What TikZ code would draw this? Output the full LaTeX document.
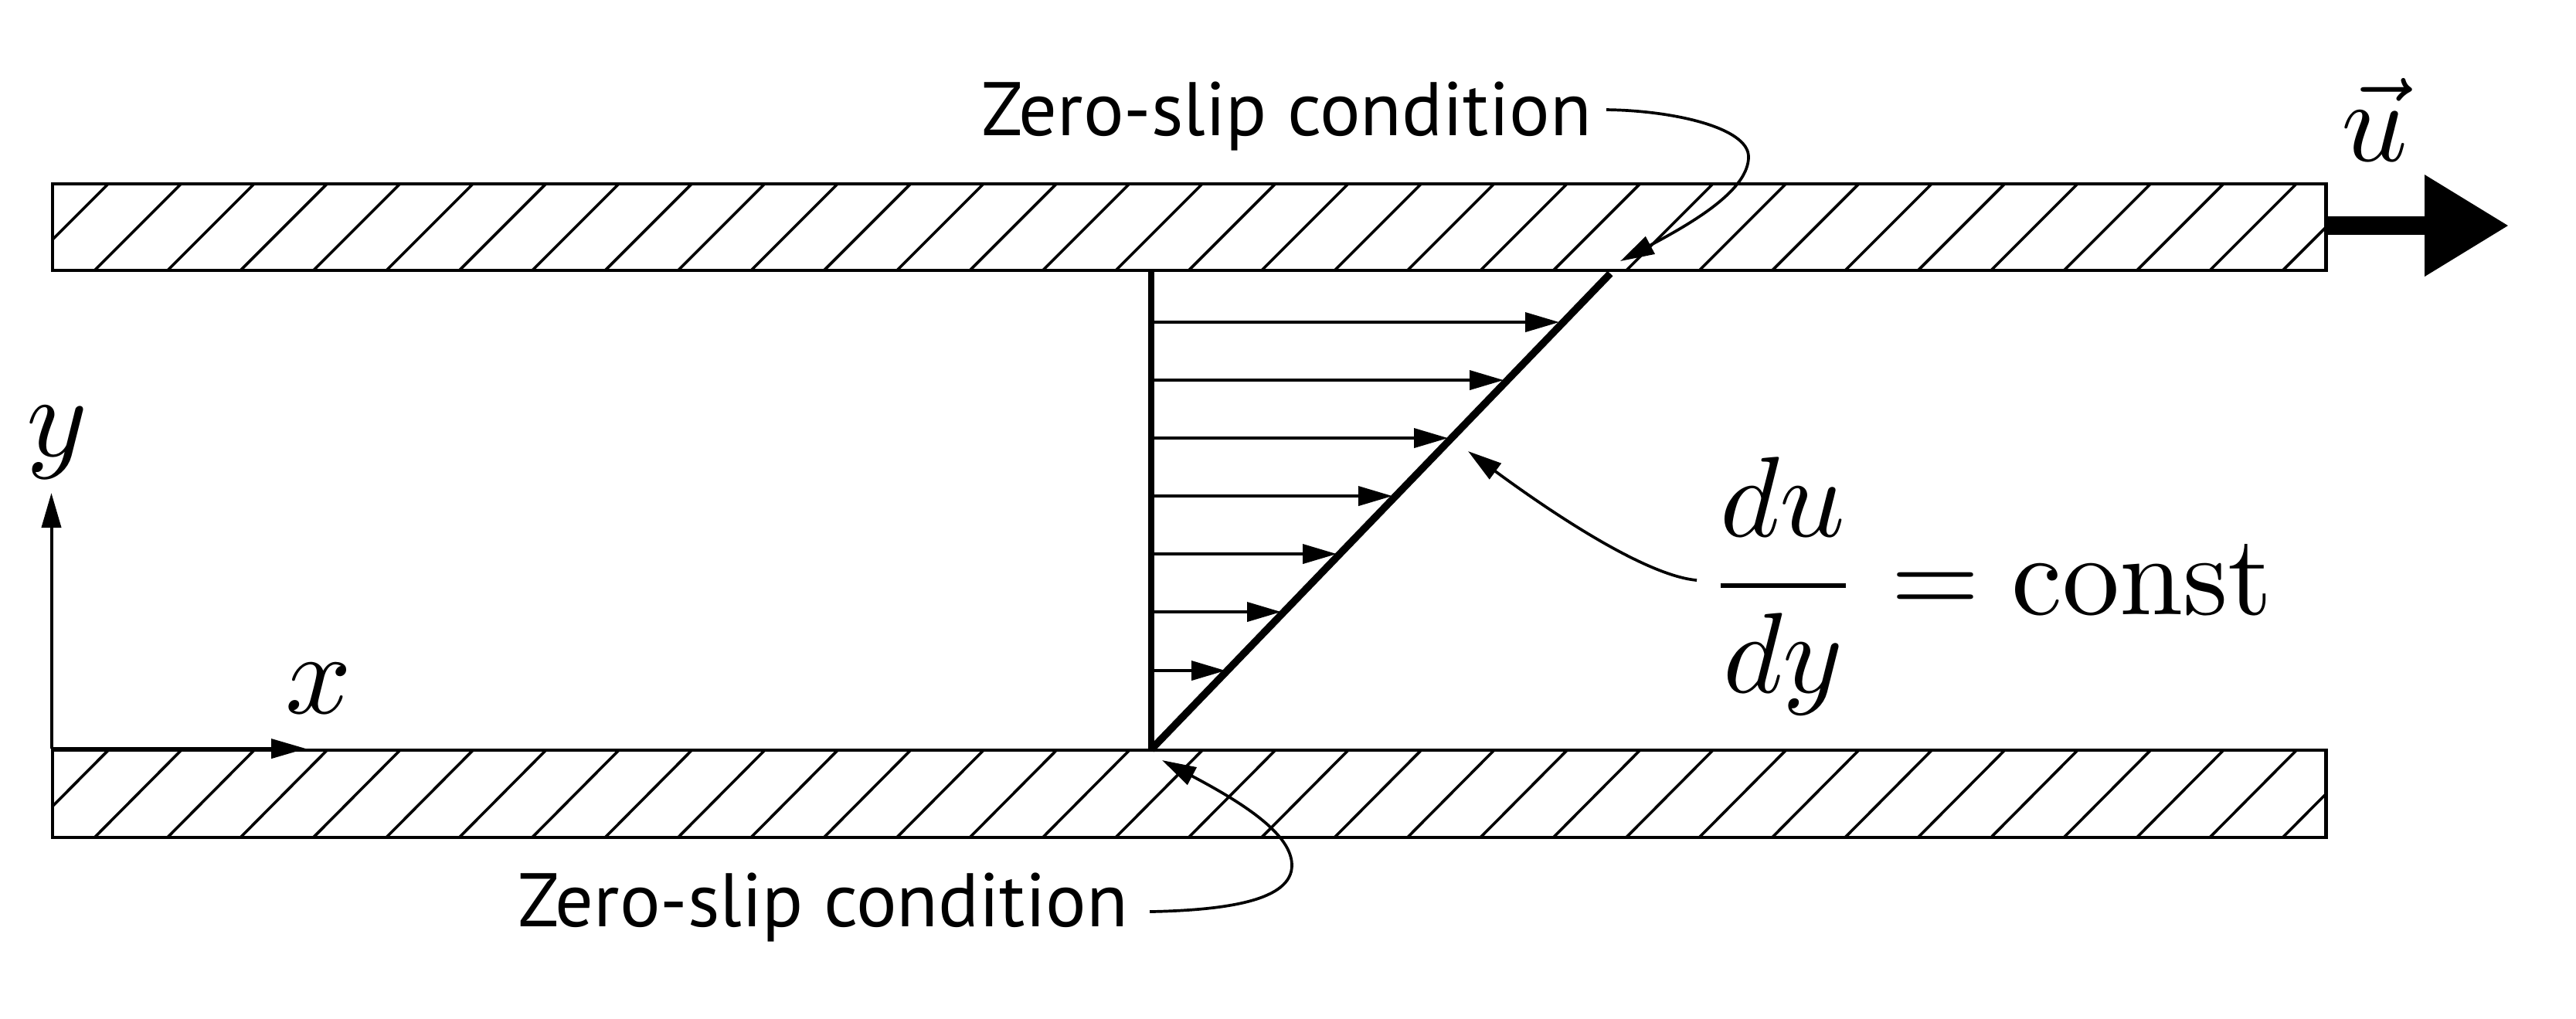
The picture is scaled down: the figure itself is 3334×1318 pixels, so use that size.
\documentclass[tikz,border=0pt]{standalone}
\usepackage[no-math]{fontspec}
\setmainfont{PT Sans}
\usetikzlibrary{arrows.meta}
\tikzset{
  plate/.style={draw=black,line width=0.42pt,outer sep=0pt,inner sep=0pt},
  hatchline/.style={black,line width=0.36pt},
  profile/.style={black,line width=0.75pt},
  velarrow/.style={black,line width=0.38pt,-{Triangle[length=4.4pt,width=2.5pt]}},
  axisarrow/.style={black,line width=0.4pt,-{Triangle[length=4.5pt,width=2.5pt]}},
  leader/.style={black,line width=0.37pt,-{Triangle[length=4.4pt,width=2.5pt]}},
  bigarrow/.style={black,line width=2.4pt,-{Triangle[length=10.9pt,width=12.5pt]}},
  callout/.style={inner sep=0pt,anchor=base,font=\fontsize{9.83pt}{11pt}\selectfont},
  mathlabel/.style={inner sep=0pt,anchor=base,scale=1.5},
  formula/.style={inner sep=0pt,anchor=base west,scale=1.48}
}
\begin{document}
\begin{tikzpicture}[x=0.1pt,y=-0.1pt]
\useasboundingbox (0,0) rectangle (3334,1318);
% plates
\begin{scope}
  \clip (68,238) rectangle (3010.5,350);
  \foreach \k in {0,...,32}
    \draw[hatchline] ({140+94.4*\k+20},218) -- ({140+94.4*\k-132},370);
\end{scope}
\begin{scope}
  \clip (68,971) rectangle (3010.5,1084);
  \foreach \k in {0,...,32}
    \draw[hatchline] ({140+94.4*\k+20},951) -- ({140+94.4*\k-132},1104);
\end{scope}
\node[plate,minimum width=294.25pt,minimum height=11.2pt,anchor=north west] (topplate) at (68,238) {};
\node[plate,minimum width=294.25pt,minimum height=11.3pt,anchor=north west] (botplate) at (68,971) {};
% velocity profile
\coordinate (ptop) at (1490,350);
\coordinate (pbot) at (1490,970);
\coordinate (pend) at (2084,354);
\draw[profile] (ptop) -- (pbot);
\draw[profile,line width=0.95pt] (pbot) -- (pend);
\foreach \i/\yy/\xx in {1/417/2018,2/492/1946,3/567/1874,4/642/1802,5/717/1730,6/792/1658,7/868/1586}{
  \coordinate (vs\i) at (1490,\yy);
  \coordinate (ve\i) at (\xx,\yy);
  \draw[velarrow] (vs\i) -- (ve\i);
}
% axes
\coordinate (origin) at (66.5,969);
\coordinate (xend) at (396,969);
\coordinate (yend) at (66.5,638);
\draw[axisarrow] (origin) -- (xend);
\draw[axisarrow] (origin) -- (yend);
\node[mathlabel] (xlabel) at (412,923) {$x$};
\node[mathlabel] (ylabel) at (74,590) {$y$};
% moving plate arrow
\coordinate (ustart) at (3010.5,292);
\coordinate (uend) at (3247,292);
\draw[bigarrow] (ustart) -- (uend);
\node[mathlabel] (ulabel) at (3073,208) {$\vec{u}$};
% callouts
\node[callout] (topcall) at (1665,175) {Zero-slip condition};
\node[callout] (botcall) at (1065,1199) {Zero-slip condition};
\coordinate (tl) at (2079,142);
\coordinate (tt) at (2097,338);
\draw[leader] (tl) .. controls (2165,143) and (2263,165) .. (2263,203)
  .. controls (2263,245) and (2195,286) .. (tt);
\coordinate (bl) at (1488,1180);
\coordinate (bt) at (1504,984);
\draw[leader] (bl) .. controls (1590,1178) and (1672,1165) .. (1672,1120)
  .. controls (1672,1080) and (1610,1040) .. (bt);
% formula
\node[formula] (eqn) at (2206,795) {$\displaystyle\frac{du}{dy}=\mathrm{const}$};
\coordinate (fl) at (2196,751);
\coordinate (ft) at (1900,584);
\draw[leader] (fl) .. controls (2130,745) and (2010,665) .. (ft);
\end{tikzpicture}
\end{document}
